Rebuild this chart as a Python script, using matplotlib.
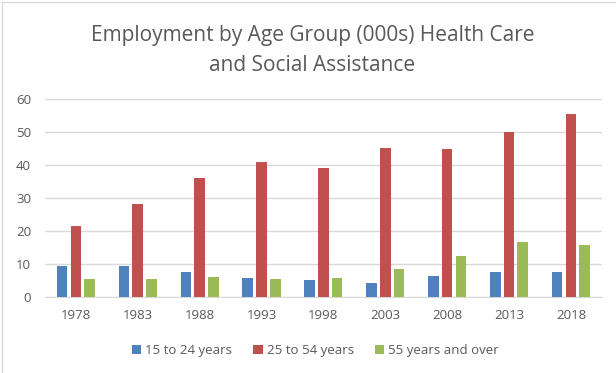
import matplotlib.pyplot as plt
import numpy as np
from matplotlib.patches import Rectangle

years = ["1978", "1983", "1988", "1993", "1998", "2003", "2008", "2013", "2018"]
age_15_24 = [9.4, 9.3, 7.4, 5.8, 5.0, 4.3, 6.2, 7.6, 7.6]
age_25_54 = [21.6, 28.2, 35.9, 40.8, 39.1, 45.0, 44.8, 50.1, 55.3]
age_55_up = [5.3, 5.4, 5.9, 5.4, 5.6, 8.4, 12.5, 16.6, 15.7]

plt.rcParams['font.family'] = ['Open Sans', 'DejaVu Sans']
txt = "#595959"

fig = plt.figure(figsize=(6.16, 3.73), dpi=100)
ax = fig.add_axes([0.073, 0.204, 0.904, 0.531])

x = np.arange(len(years))
w = 0.172
off = 0.222
ax.bar(x - off, age_15_24, w, color="#4F81BD", label="15 to 24 years", zorder=3)
ax.bar(x, age_25_54, w, color="#C0504D", label="25 to 54 years", zorder=3)
ax.bar(x + off, age_55_up, w, color="#9BBB59", label="55 years and over", zorder=3)

ax.set_xlim(-0.5, len(years) - 0.5)
ax.set_ylim(0, 60)
ax.set_yticks(range(0, 61, 10))
ax.set_xticks(x)
ax.set_xticklabels(years)
ax.grid(axis="y", color="#d9d9d9", linewidth=1, zorder=0)
for s in ["top", "right", "left"]:
    ax.spines[s].set_visible(False)
ax.spines["bottom"].set_color("#d9d9d9")
ax.tick_params(length=0, colors=txt, labelsize=9.5)
ax.tick_params(axis="y", pad=10)
ax.tick_params(axis="x", pad=9)

fig.text(0.507, 0.864, "Employment by Age Group (000s) Health Care\nand Social Assistance",
         ha="center", va="center", fontsize=15, color=txt, linespacing=1.55)

fig.legend(loc="center", bbox_to_anchor=(0.512, 0.059), ncol=3, frameon=False,
           fontsize=9.5, labelcolor=txt, handlelength=0.7, handleheight=0.7,
           handletextpad=0.3, columnspacing=1.6)

fig.patches.append(Rectangle((0.004, -0.01), 1.2, 1.004, transform=fig.transFigure,
                             fill=False, edgecolor="#d9d9d9", linewidth=1))

fig.savefig("out.png", dpi=100)
